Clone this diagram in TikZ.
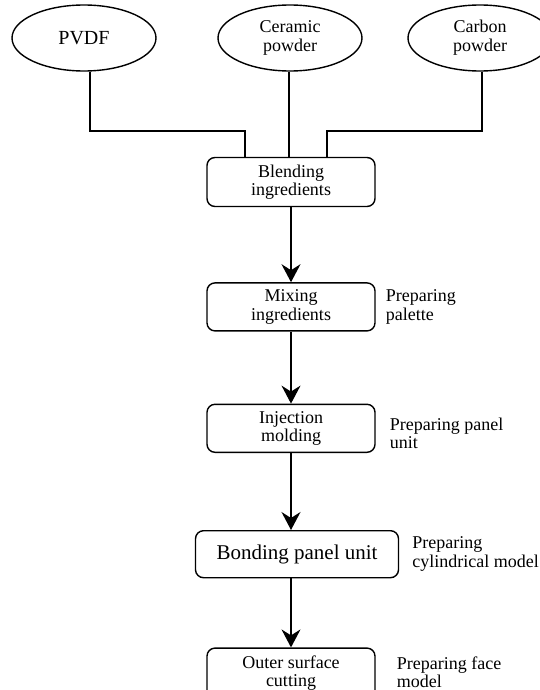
\documentclass[tikz,border=0pt]{standalone}
\usepackage{fontspec}
\setmainfont{Liberation Serif}
\usetikzlibrary{shapes}
\usetikzlibrary{arrows.meta}
\usetikzlibrary{positioning}

\begin{document}
\begin{tikzpicture}
        [x=1pt, y=-1pt,
         stage/.style={draw, rounded corners=8pt, line width=1.4pt, minimum width=168pt,
           minimum height=48pt, inner sep=2pt, align=center, font=\fontsize{18}{18.5}\selectfont},
         source/.style={ellipse, draw, line width=1.4pt, minimum width=144pt, minimum height=66pt,
           inner sep=0pt, align=center, font=\fontsize{18}{19}\selectfont},
         note/.style={inner sep=0pt, align=left, font=\fontsize{18}{18.5}\selectfont},
         feed/.style={line width=1.4pt},
         flow/.style={line width=1.4pt, -{Stealth[length=18pt, width=19pt, inset=6pt]}}]
        \useasboundingbox (0,0) rectangle (540,690);
        % raw materials
        \node [source, font=\fontsize{20}{22}\selectfont] (pvdf) at (84,38) {PVDF};
        \node [source] (ceramic) at (290,38) {Ceramic\\powder};
        \node [source] (carbon) at (480,38) {Carbon\\powder};
        % process chain
        \node [stage, minimum height=49pt] (blend) at (291,182) {Blending\\ingredients};
        \node [stage, below=75pt of blend] (mix) {Mixing\\ingredients};
        \node [stage, below=72pt of mix] (inject) {Injection\\molding};
        \node [stage, below=77pt of inject, xshift=6pt, minimum width=203pt, minimum height=47pt,
          font=\fontsize{21}{22}\selectfont] (bond) {Bonding panel unit};
        \node [stage, below=69pt of bond, xshift=-6pt, minimum height=50pt] (outer) {Outer surface\\cutting};
        % what each step gives
        \node [note, right=10pt of mix] (palette) {Preparing\\palette};
        \node [note, right=14pt of inject, yshift=-5pt] (panel) {Preparing panel\\unit};
        \node [note, right=13pt of bond] (cylinder) {Preparing\\cylindrical model};
        \node [note, right=21pt of outer, yshift=1pt] (face) {Preparing face\\model};
        \coordinate (bus) at (0,131);
        \draw [feed] (pvdf.south -| 90,0) -- (bus -| 90,0) -| ([xshift=-46pt]blend.north);
        \draw [feed] (ceramic.south -| 289,0) -- (blend.north -| 289,0);
        \draw [feed] (carbon.south -| 482,0) -- (bus -| 482,0) -| ([xshift=36pt]blend.north);
        \draw [flow] (blend) -- (mix);
        \draw [flow] (mix) -- (inject);
        \draw [flow] (inject.south) -- (inject.south |- bond.north);
        \draw [flow] (bond.south -| outer.north) -- (outer.north);
    \end{tikzpicture}
\end{document}
